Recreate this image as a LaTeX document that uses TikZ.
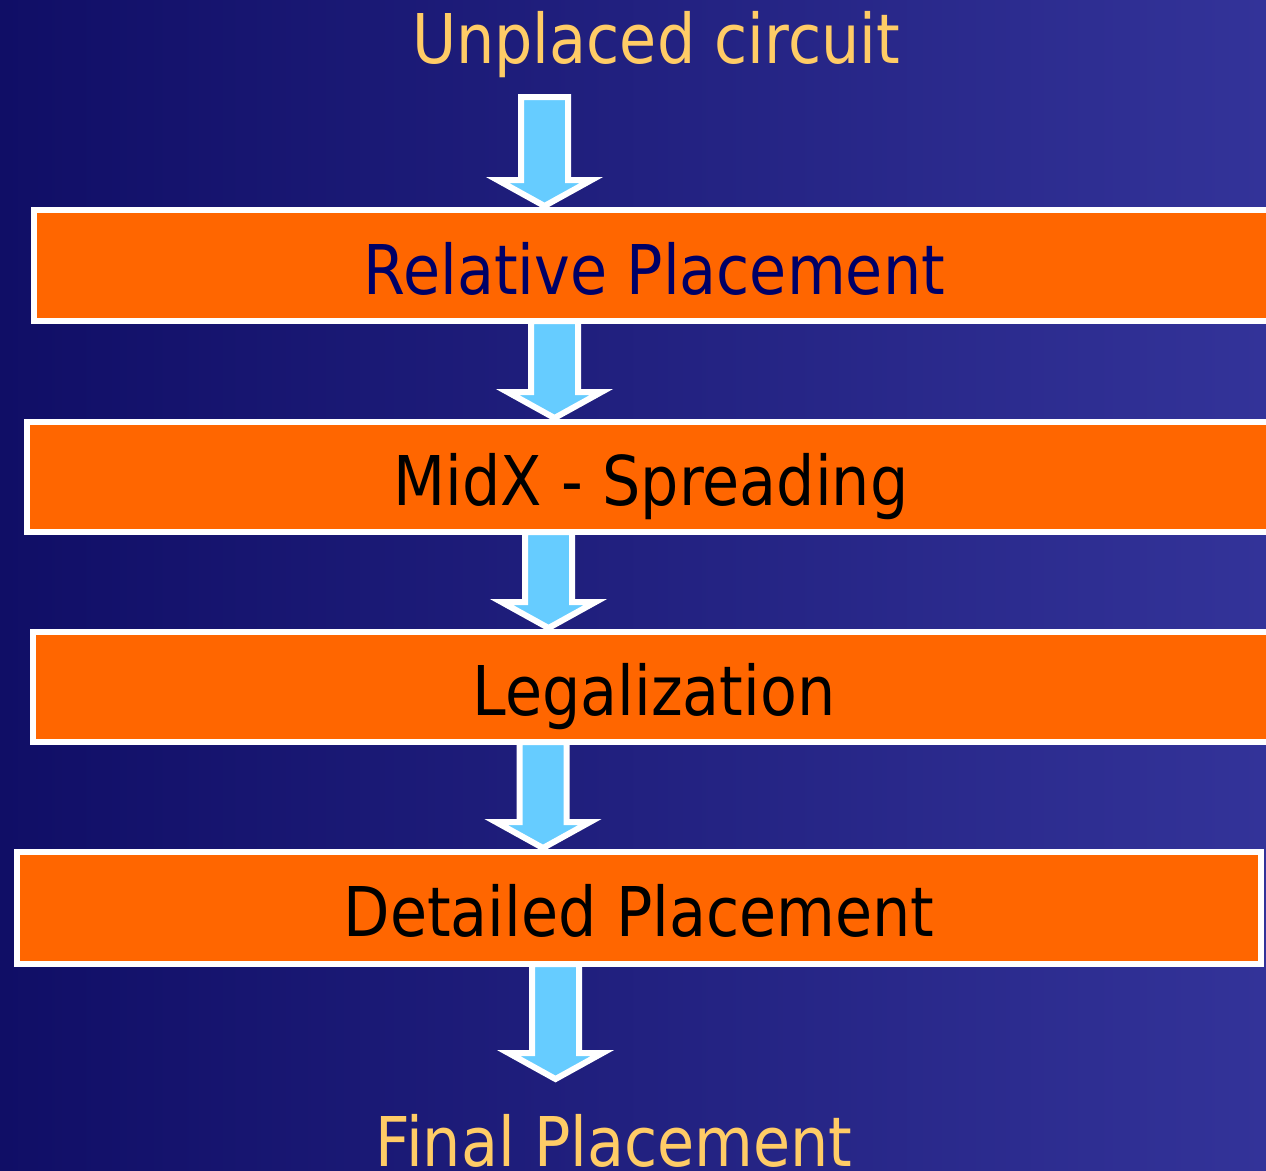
\documentclass[tikz,border=0pt]{standalone}
\usepackage{fontspec}
\setmainfont{DejaVu Sans}[FakeStretch=0.88]
\usetikzlibrary{calc}
\definecolor{bgl}{HTML}{100E66}
\definecolor{bgr}{HTML}{333399}
\definecolor{boxor}{HTML}{FF6600}
\definecolor{arrblue}{HTML}{66CCFF}
\definecolor{titley}{HTML}{FFCC66}
\definecolor{navytext}{HTML}{000066}
\newcommand\flowarrow[3]{%
  \draw[flowarr] let \p1=(#1,0 |- #2), \p2=(#1,0 |- #3) in
    (\x1-23.5pt,\y1) -- (\x1+23.5pt,\y1) -- (\x1+23.5pt,\y2+30pt) --
    (\x1+47pt,\y2+30pt) -- (\x1,\y2+4pt) -- (\x1-47pt,\y2+30pt) --
    (\x1-23.5pt,\y2+30pt) -- cycle;}
\begin{document}
\begin{tikzpicture}[x=1pt,y=-1pt,
  stagebox/.style={draw=white, line width=6pt, fill=boxor, rectangle,
    outer sep=0pt, inner sep=0pt, text height=57pt, text depth=0pt,
    font=\fontsize{68.6pt}{80pt}\selectfont},
  endlabel/.style={text=titley, anchor=base, inner sep=0pt,
    font=\fontsize{68.6pt}{80pt}\selectfont},
  flowarr/.style={draw=white, line width=6pt, fill=arrblue, line join=miter}]
\useasboundingbox (0,0) rectangle (1266,1170);
\clip (0,0) rectangle (1266,1170);
\shade[left color=bgl, right color=bgr] (0,0) rectangle (1266,1170);

\node[endlabel] (t0) at (656,63) {Unplaced circuit};
\node[stagebox, minimum width=1241pt, minimum height=111pt, text=navytext] (b1) at (654.5,265.5) {Relative Placement};
\node[stagebox, minimum width=1248pt, minimum height=110pt] (b2) at (651,477) {MidX - Spreading};
\node[stagebox, minimum width=1242pt, minimum height=110pt] (b3) at (654,687) {Legalization};
\node[stagebox, minimum width=1244pt, minimum height=112pt] (b4) at (639,908) {Detailed Placement};
\node[endlabel] (t5) at (614,1166) {Final Placement};

\coordinate (a0) at (0,97);
\coordinate (e5) at (0,1083);

\flowarrow{544.5}{a0}{b1.north}
\flowarrow{554.5}{b1.south}{b2.north}
\flowarrow{548.5}{b2.south}{b3.north}
\flowarrow{543}{b3.south}{b4.north}
\flowarrow{555.5}{b4.south}{e5}
\end{tikzpicture}
\end{document}
